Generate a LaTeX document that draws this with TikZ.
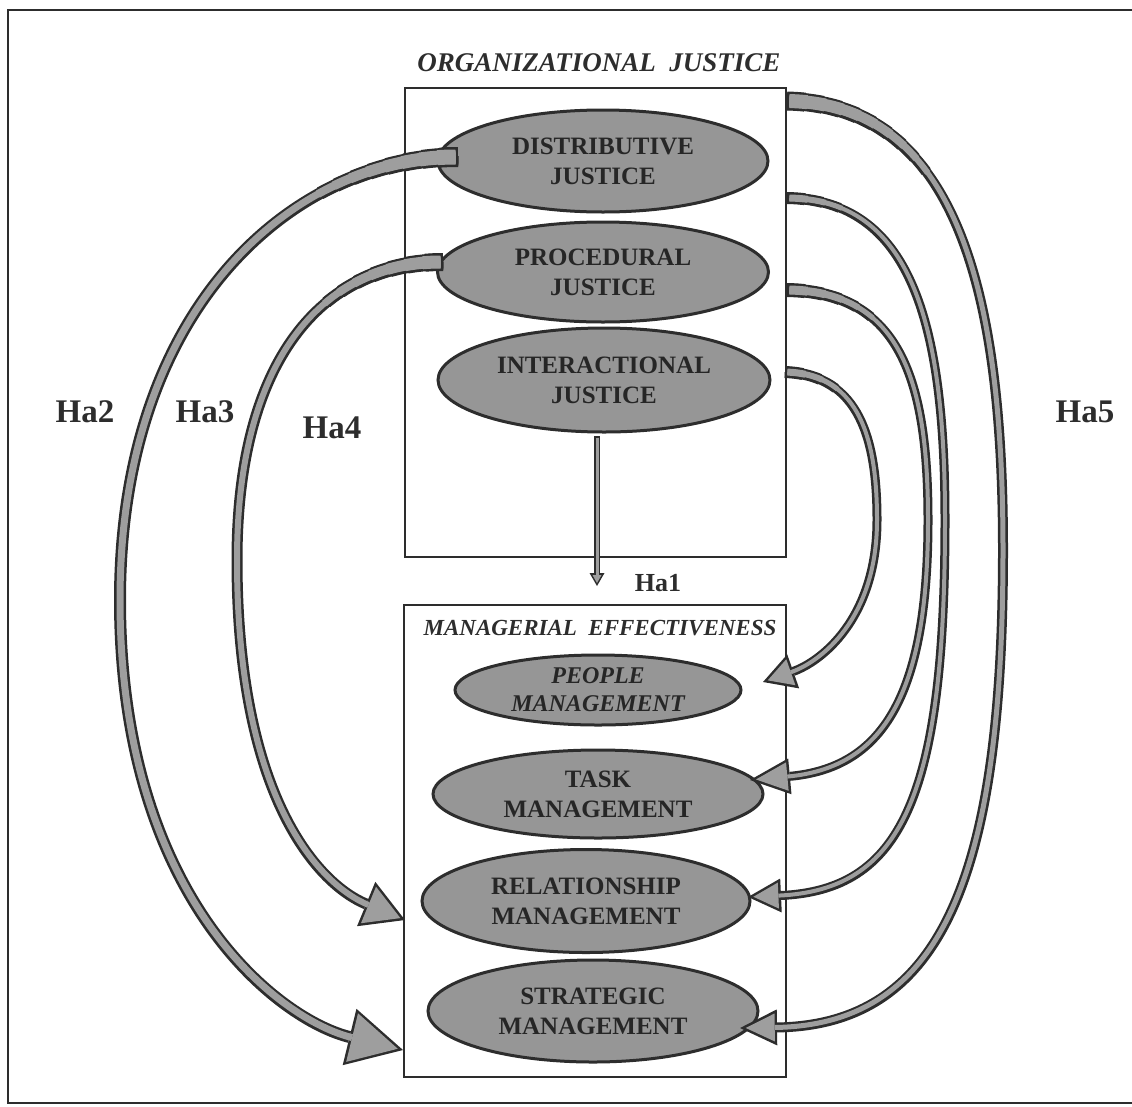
\documentclass[tikz,border=0pt]{standalone}
\usepackage{fontspec}
\setmainfont{Liberation Serif}
\usetikzlibrary{shapes.geometric,arrows.meta}
\definecolor{edgecol}{RGB}{45,45,45}
\definecolor{ellfill}{RGB}{150,150,150}
\definecolor{arrowcol}{RGB}{158,158,158}
% #1 outer shaft, #2 inner shaft, #3 L, #4 W, #5 tip inset, #6 L', #7 W', #8 path, #9 taper steps
\newcommand\BlockArrow[9]{%
  \draw[edgecol, line width=#1, -{Triangle[length=#3,width=#4,line width=0pt]}] #8;
  \foreach \k in {1,...,#9}{%
    \pgfmathsetmacro\ww{#1+\k}%
    \pgfmathsetmacro\dl{(#9-\k+1)*18}%
    \draw[edgecol, line width=\ww pt, dash pattern=on \dl pt off 10000pt] #8;
  }%
  \draw[arrowcol, line width=#2, shorten <=2.5pt, shorten >=#5, -{Triangle[length=#6,width=#7,line width=0pt]}] #8;
  \foreach \k in {1,...,#9}{%
    \pgfmathsetmacro\ww{#2+\k}%
    \pgfmathsetmacro\dl{(#9-\k+1)*18}%
    \draw[arrowcol, line width=\ww pt, shorten <=2.5pt, dash pattern=on \dl pt off 10000pt] #8;
  }%
}
\tikzset{
  ell/.style={ellipse, draw=edgecol, line width=3pt, fill=ellfill, inner sep=0pt,
    align=center, font=\fontsize{25}{30}\selectfont\bfseries, text=black!85},
  boxstyle/.style={draw=edgecol, line width=2.5pt, inner sep=0pt},
  titletext/.style={font=\fontsize{27}{30}\selectfont\bfseries\itshape, text=edgecol},
  halabel/.style={font=\fontsize{33}{36}\selectfont\bfseries, text=edgecol},
}
\begin{document}
\begin{tikzpicture}[x=1pt,y=-1pt]
\useasboundingbox (0,0) rectangle (1132,1106);
% outer frame
\draw[edgecol, line width=2pt] (1132,10) -- (8,10) -- (8,1103) -- (1132,1103);

% boxes
\node[boxstyle, minimum width=381pt, minimum height=469pt] (ojbox) at (595.5,322.5) {};
\node[boxstyle, minimum width=382pt, minimum height=472pt] (mebox) at (595,841) {};

% titles
\node[titletext] (ojtitle) at (599,63) {ORGANIZATIONAL\ \ JUSTICE};
\node[titletext, font=\fontsize{23}{28}\selectfont\bfseries\itshape] (metitle) at (600,628) {MANAGERIAL\ \ EFFECTIVENESS};

% ellipses
\node[ell, minimum width=330pt, minimum height=102pt] (dist) at (603,161) {DISTRIBUTIVE\\JUSTICE};
\node[ell, minimum width=331pt, minimum height=100pt] (proc) at (603,272) {PROCEDURAL\\JUSTICE};
\node[ell, minimum width=332pt, minimum height=104pt] (inter) at (604,380) {INTERACTIONAL\\JUSTICE};
\node[ell, minimum width=286pt, minimum height=70pt, font=\fontsize{24}{28}\selectfont\bfseries\itshape] (people) at (598,690) {PEOPLE\\MANAGEMENT};
\node[ell, minimum width=330pt, minimum height=88pt] (task) at (598,794) {TASK\\MANAGEMENT};
\node[ell, minimum width=328pt, minimum height=103pt] (rel) at (586,901) {RELATIONSHIP\\MANAGEMENT};
\node[ell, minimum width=330pt, minimum height=102pt] (strat) at (593,1011) {STRATEGIC\\MANAGEMENT};

% connector end points
\coordinate (a2s) at (458,157);
\coordinate (a2e) at (403,1050);
\coordinate (a3s) at (443,262);
\coordinate (a3e) at (405,920);
\coordinate (r4s) at (787,101);
\coordinate (r4e) at (740,1028);
\coordinate (r3s) at (787,198);
\coordinate (r3e) at (748,897);
\coordinate (r2s) at (787,290);
\coordinate (r2e) at (750,780);
\coordinate (r1s) at (785,372);
\coordinate (r1e) at (763,682);
\coordinate (a1s) at (597,436);
\coordinate (a1e) at (597,586);

% Ha1
\draw[edgecol, line width=6pt, -{Triangle[length=13pt,width=15pt,line width=0pt]}] (a1s) -- (a1e);
\draw[arrowcol, line width=3pt, shorten <=1.5pt, shorten >=3pt, -{Triangle[length=8pt,width=9pt,line width=0pt]}] (a1s) -- (a1e);
% Ha2 : distributive -> strategic
\BlockArrow{12pt}{7pt}{55pt}{58pt}{5.4pt}{47pt}{50pt}{(a2s) .. controls (300,157) and (120,300) .. (120,600) .. controls (120,900) and (280,1020) .. (a2e)}{8}
% Ha3 : procedural -> relationship
\BlockArrow{11pt}{6pt}{42pt}{48pt}{5pt}{34.5pt}{39.5pt}{(a3s) .. controls (330,262) and (237,350) .. (237,560) .. controls (237,800) and (320,885) .. (a3e)}{7}
% Ha5 arcs (right side)
\BlockArrow{10pt}{5pt}{37pt}{36pt}{5.7pt}{29pt}{28pt}{(r4s) .. controls (960,105) and (1003,300) .. (1003,550) .. controls (1003,880) and (940,1025) .. (r4e)}{9}
\BlockArrow{9pt}{4pt}{33pt}{34pt}{5.4pt}{25pt}{26pt}{(r3s) .. controls (910,200) and (945,320) .. (945,520) .. controls (945,800) and (900,890) .. (r3e)}{3}
\BlockArrow{9pt}{4pt}{40pt}{36pt}{6pt}{31.5pt}{28.5pt}{(r2s) .. controls (900,292) and (928,380) .. (928,520) .. controls (928,700) and (880,768) .. (r2e)}{5}
\BlockArrow{9pt}{4pt}{32pt}{36pt}{5pt}{24.5pt}{27.5pt}{(r1s) .. controls (860,375) and (877,440) .. (877,520) .. controls (877,620) and (820,662) .. (r1e)}{3}

% labels
\node[halabel, font=\fontsize{26}{30}\selectfont\bfseries] (ha1) at (658,583) {Ha1};
\node[halabel] (ha2) at (85,412) {Ha2};
\node[halabel] (ha3) at (205,412) {Ha3};
\node[halabel] (ha4) at (332,428) {Ha4};
\node[halabel] (ha5) at (1085,412) {Ha5};
\end{tikzpicture}
\end{document}
